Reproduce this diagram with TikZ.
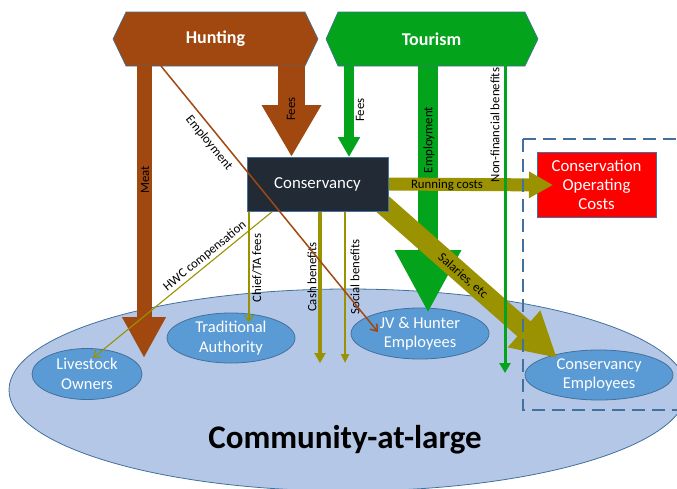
\documentclass[tikz,border=0pt]{standalone}
\usepackage{fontspec}
\setmainfont{Carlito}
\usetikzlibrary{arrows.meta,shapes.geometric}
\pgfdeclarelayer{back}
\pgfdeclarelayer{flow}
\pgfsetlayers{back,flow,main}
\definecolor{brownC}{HTML}{A0480F}
\definecolor{greenC}{HTML}{03A31B}
\definecolor{oliveC}{HTML}{9A9200}
\definecolor{navyC}{HTML}{222A35}
\definecolor{edgeC}{HTML}{41719C}
\definecolor{lightC}{HTML}{B4C7E7}
\definecolor{midC}{HTML}{5B9BD5}
\definecolor{redC}{HTML}{FF0000}
\begin{document}
\begin{tikzpicture}[x=1pt,y=-1pt,
  every node/.style={inner sep=0pt,outer sep=0pt},
  grouptext/.style={text=white,align=center,font=\fontsize{16.5}{19.5}\selectfont},
  group/.style={ellipse,fill=midC,draw=edgeC,line width=0.8pt},
  boxnode/.style={draw=edgeC,line width=0.8pt,text=white,align=center,font=\fontsize{16.8}{19}\selectfont},
  hexbody/.style={minimum height=54pt,text=white,font=\bfseries\fontsize{18}{20}\selectfont},
  hexline/.style={draw=edgeC,line width=0.6pt},
  lbl/.style={text=black,font=\fontsize{12.8}{14}\selectfont},
  barb/.style={-{Straight Barb[length=6pt,width=9pt]}},
  dashbox/.style={draw=edgeC,line width=2.5pt,dash pattern=on 13pt off 7pt}
]
\useasboundingbox (0,0) rectangle (677,488);

% ---------- back layer: community and groups ----------
\begin{pgfonlayer}{back}
  \node[ellipse,fill=lightC,draw=edgeC,line width=0.8pt,minimum width=678pt,minimum height=202pt] (community) at (348,390) {};
  \node[group,minimum width=110pt,minimum height=51pt,label={[grouptext]center:{Livestock\\Owners}}] (livestock) at (87,374) {};
  \node[group,minimum width=128pt,minimum height=50pt,label={[grouptext]center:{Traditional\\Authority}}] (ta) at (231,338) {};
  \node[group,minimum width=138pt,minimum height=51pt,label={[grouptext]center:{JV \& Hunter\\Employees}}] (jv) at (420,333.5) {};
  \node[group,minimum width=148pt,minimum height=50pt,label={[grouptext]center:{Conservancy\\Employees}}] (ce) at (599,375) {};
  \node[boxnode,fill=redC,minimum width=119pt,minimum height=65pt] (coc) at (596.5,184.5) {Conservation\\Operating\\Costs};
\end{pgfonlayer}

% ---------- main nodes ----------
\node[hexbody,minimum width=179pt] (hunting) at (215.5,39) {Hunting};
\node[hexbody,minimum width=187pt] (tourism) at (431.5,39) {Tourism};
\node[boxnode,fill=navyC,minimum width=141pt,minimum height=54pt] (conservancy) at (317.5,184) {Conservancy};
\node[anchor=base,font=\bfseries\fontsize{33}{36}\selectfont] (commlabel) at (345,448) {Community-at-large};

\coordinate (empT) at (428,313);
\coordinate (nfT) at (505,373);
\coordinate (meatT) at (144,358);
\coordinate (rcT) at (553,185);
\coordinate (salT) at (557,358);
\coordinate (cashT) at (320,363);
\coordinate (socT) at (345,363);
\coordinate (chT) at (249,322);
\coordinate (hwcT) at (93,358);
\coordinate (beT) at (378,332);

% ---------- flow layer: hexagons and arrows ----------
\begin{pgfonlayer}{flow}
  \filldraw[hexline,fill=brownC] (hunting.north west) -- (hunting.north east) -- ([xshift=13pt]hunting.east) -- (hunting.south east) -- (hunting.south west) -- ([xshift=-13pt]hunting.west) -- cycle;
  \filldraw[hexline,fill=greenC] (tourism.north west) -- (tourism.north east) -- ([xshift=13pt]tourism.east) -- (tourism.south east) -- (tourism.south west) -- ([xshift=-12pt]tourism.west) -- cycle;

  % tourism employment
  \draw[greenC,line width=20pt,-{Triangle[width=62pt,length=63pt]}] (tourism.south -| empT) -- (empT);
  \node[lbl,rotate=90] (empGlbl) at (429,140) {Employment};
  % tourism fees
  \draw[greenC,line width=10pt,-{Triangle[width=21pt,length=20pt]}] (tourism.south -| 349,0) -- (conservancy.north -| 349,0);
  \node[lbl,rotate=90] (feesTlbl) at (360,110) {Fees};
  % hunting fees
  \draw[brownC,line width=27pt,-{Triangle[width=56pt,length=52pt]}] (hunting.south -| 291.5,0) -- (conservancy.north -| 291.5,0);
  \node[lbl,rotate=90] (feesHlbl) at (291,109) {Fees};
  % meat
  \draw[brownC,line width=15pt,-{Triangle[width=41pt,length=41pt]}] (hunting.south -| meatT) -- (meatT);
  \node[lbl,rotate=90] (meatlbl) at (145,180) {Meat};
  % running costs
  \draw[oliveC,line width=13pt,-{Triangle[width=25pt,length=24pt]}] (conservancy.east) -- (rcT);
  \node[lbl] (rclbl) at (447,185) {Running costs};
  % salaries
  \draw[oliveC,line width=20pt,-{Triangle[width=46pt,length=44pt]}] ([shift={(-10,-11)}]conservancy.south east) -- (salT);
  \node[lbl,rotate=-41.4] (sallbl) at (463,276) {Salaries, etc};
  % cash benefits
  \draw[oliveC,line width=4pt,-{Triangle[width=11pt,length=10pt]}] (conservancy.south -| cashT) -- (cashT);
  \node[lbl,rotate=90] (cashlbl) at (312,277) {Cash benefits};
  % social benefits
  \draw[oliveC,line width=2.5pt,-{Triangle[width=8pt,length=9pt]}] (conservancy.south -| socT) -- (socT);
  \node[lbl,rotate=90] (soclbl) at (355,277) {Social benefits};
  % chief / TA fees
  \draw[oliveC,line width=1.2pt,barb] (conservancy.south -| chT) -- (chT);
  \node[lbl,rotate=90] (chlbl) at (257,268) {Chief/TA fees};
  % HWC compensation
  \draw[oliveC,line width=1.1pt,barb] (conservancy.south -| 273,0) -- (hwcT);
  \node[lbl,rotate=39.2] (hwclbl) at (205,256) {HWC compensation};
  % non-financial benefits
  \draw[greenC,line width=3pt,-{Triangle[width=11pt,length=10pt]}] (tourism.south -| nfT) -- (nfT);
  \node[lbl,rotate=90] (nflbl) at (495,125) {Non-financial benefits};
\end{pgfonlayer}

% ---------- brown employment line (over the conservancy box) ----------
\draw[brownC,line width=1.5pt,barb] (hunting.south -| 161,0) -- (beT);
\node[lbl,rotate=-50.8] (empBlbl) at (209,143) {Employment};

% ---------- dashed boundary ----------
\draw[dashbox] (523,139) -- (695,139);
\draw[dashbox] (523,139) -- (523,410) -- (695,410);
\end{tikzpicture}
\end{document}
